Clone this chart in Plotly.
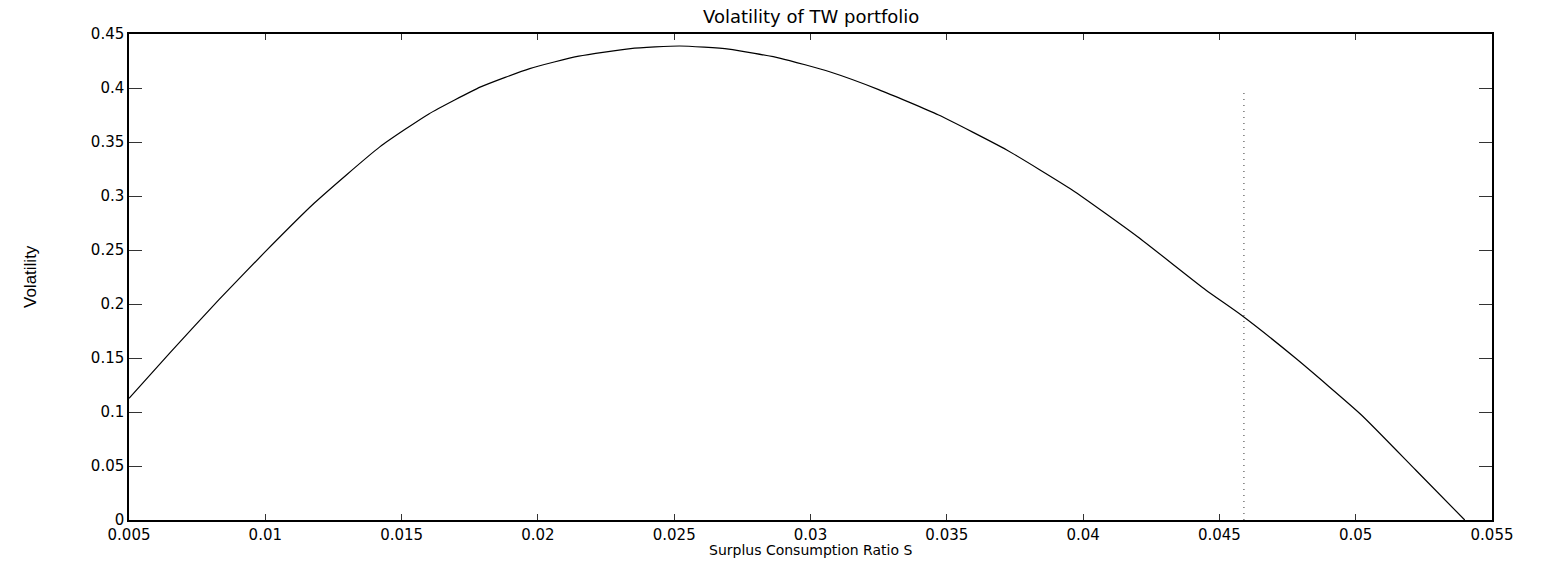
import plotly.graph_objects as go

# Surplus consumption ratio S (x) and volatility of TW portfolio (y)
S = [0.0050, 0.0065, 0.0083, 0.0100, 0.0118, 0.0142, 0.0160, 0.0179, 0.0197, 0.0215,
     0.0234, 0.0252, 0.0270, 0.0289, 0.0307, 0.0325, 0.0347, 0.0372, 0.0396, 0.0420,
     0.0445, 0.0458, 0.0478, 0.0502, 0.0522, 0.0540]
volatility = [0.1127, 0.1547, 0.2040, 0.2485, 0.2935, 0.3455, 0.3760, 0.4010, 0.4180, 0.4295,
              0.4365, 0.4389, 0.4360, 0.4275, 0.4150, 0.3985, 0.3750, 0.3426, 0.3056, 0.2623,
              0.2130, 0.1898, 0.1497, 0.0975, 0.0463, 0.0]

# vertical dotted marker line
marker_S = [0.0459, 0.0459]
marker_y = [0.0, 0.40]

x_ticks = [0.005, 0.01, 0.015, 0.02, 0.025, 0.03, 0.035, 0.04, 0.045, 0.05, 0.055]
x_ticktext = ["0.005", "0.01", "0.015", "0.02", "0.025", "0.03", "0.035", "0.04", "0.045", "0.05", "0.055"]
y_ticks = [0, 0.05, 0.1, 0.15, 0.2, 0.25, 0.3, 0.35, 0.4, 0.45]
y_ticktext = ["0", "0.05", "0.1", "0.15", "0.2", "0.25", "0.3", "0.35", "0.4", "0.45"]

title_text = "Volatility of TW portfolio"
x_title = "Surplus Consumption Ratio S"
y_title = "Volatility"

FONT = "DejaVu Sans, Liberation Sans, Arial, sans-serif"

fig = go.Figure()
fig.add_trace(go.Scatter(x=S, y=volatility, mode="lines",
                         line=dict(color="black", width=1.2, shape="spline", smoothing=0.5),
                         showlegend=False, hoverinfo="x+y"))
fig.add_trace(go.Scatter(x=marker_S, y=marker_y, mode="lines",
                         line=dict(color="#333333", width=1, dash="1px,5px"),
                         showlegend=False, hoverinfo="skip"))

axis_common = dict(showgrid=False, zeroline=False, showline=True, linecolor="black",
                   linewidth=1.5, mirror="ticks", ticks="inside", tickcolor="#333333",
                   tickwidth=1, automargin=False,
                   tickfont=dict(family=FONT, size=15, color="black"))

fig.update_xaxes(range=[0.005, 0.055], tickvals=x_ticks, ticktext=x_ticktext,
                 ticklen=6, **axis_common)
fig.update_yaxes(range=[0, 0.45], tickvals=y_ticks, ticktext=y_ticktext,
                 ticklen=13, **axis_common)

fig.update_layout(
    width=1541, height=561,
    margin=dict(l=129, r=49, t=34, b=41),
    paper_bgcolor="white", plot_bgcolor="white",
    annotations=[
        dict(text=title_text, xref="paper", yref="paper", x=0.5, y=1, yanchor="bottom",
             yshift=5, showarrow=False, font=dict(family=FONT, size=18, color="black")),
        dict(text=x_title, xref="paper", yref="paper", x=0.5, y=0, yanchor="top",
             yshift=-20, showarrow=False, font=dict(family=FONT, size=14, color="black")),
        dict(text=y_title, xref="paper", yref="paper", x=0, xanchor="center",
             xshift=-99, y=0.5, textangle=-90, showarrow=False,
             font=dict(family="Liberation Sans Narrow, Liberation Sans, Arial, sans-serif",
                       size=17, color="black")),
    ],
)

fig.write_html("out.html", config={"displayModeBar": False},
               post_script="document.body.style.margin='0';document.body.style.overflow='hidden';")
